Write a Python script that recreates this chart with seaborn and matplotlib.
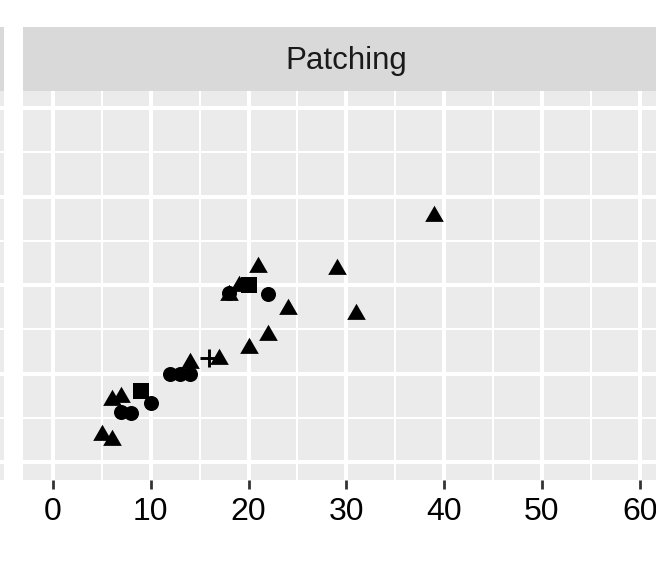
import matplotlib
matplotlib.use("Agg")
import matplotlib.pyplot as plt
import seaborn as sns
import numpy as np

# ---- data ----
tri_x = [5, 6, 6, 7, 14, 17, 20, 22, 18, 19, 21, 24, 29, 31, 39]
tri_y = [3.1, 2.5, 7.0, 7.3, 11.2, 11.6, 12.9, 14.4, 18.9, 19.9, 22.0, 17.3, 21.8, 16.7, 27.8]
circ_x = [7, 8, 10, 12, 13, 14, 18, 22]
circ_y = [5.6, 5.5, 6.7, 9.9, 9.9, 9.9, 19.1, 19.0]
sq_x = [9, 20]
sq_y = [8.0, 20.0]
plus_x = [16]
plus_y = [11.75]
x_ticks = [0, 10, 20, 30, 40, 50, 60]
x_minor = [5, 15, 25, 35, 45, 55]
y_major = [0, 10, 20, 30, 40]
y_minor = [5, 15, 25, 35]
facet_label = "Patching"

sns.set_theme(style="darkgrid")
plt.rcParams['font.family'] = ['Liberation Sans', 'DejaVu Sans']

W, H = 656, 566
fig = plt.figure(figsize=(W / 100, H / 100), dpi=100)
fig.patch.set_facecolor("white")

XLIM = (-3.07, 63.0)
YLIM = (-2.03, 41.92)
panel_top, panel_bot = 91, 480
strip_top = 27

# equilateral triangle centred on its centroid (like R's pch 17)
TRI = [(0.0, 1.0), (-0.866, -0.5), (0.866, -0.5)]


def style_panel(a):
    a.set_facecolor("#EBEBEB")
    for s in a.spines.values():
        s.set_visible(False)
    a.set_xlim(*XLIM)
    a.set_ylim(*YLIM)
    a.set_xticks(x_ticks)
    a.set_xticks(x_minor, minor=True)
    a.set_yticks(y_major)
    a.set_yticks(y_minor, minor=True)
    a.grid(True, which="major", color="white", linewidth=2.9)
    a.grid(True, which="minor", color="white", linewidth=1.45)
    a.set_axisbelow(True)
    a.set_xlabel("")
    a.set_ylabel("")


# left sliver of neighbouring panel
axl = fig.add_axes([(4 - 200) / W, 1 - panel_bot / H, 200 / W, (panel_bot - panel_top) / H])
style_panel(axl)
axl.tick_params(left=False, bottom=False, labelleft=False, labelbottom=False, which="both")
sl = fig.add_axes([(4 - 200) / W, 1 - panel_top / H, 200 / W, (panel_top - strip_top) / H])
sl.set_facecolor("#D9D9D9")
sl.set_xticks([]); sl.set_yticks([])
for s in sl.spines.values():
    s.set_visible(False)

# main panel
ax = fig.add_axes([23 / W, 1 - panel_bot / H, 646 / W, (panel_bot - panel_top) / H])
style_panel(ax)

sns.scatterplot(x=circ_x, y=circ_y, marker="o", s=117, color="black", linewidth=0, ax=ax, zorder=3)
sns.scatterplot(x=tri_x, y=tri_y, marker=TRI, s=240, color="black", linewidth=0, ax=ax, zorder=3)
sns.scatterplot(x=sq_x, y=sq_y, marker="s", s=117, color="black", linewidth=0, ax=ax, zorder=3)
sns.scatterplot(x=plus_x, y=plus_y, marker="+", s=150, color="black", linewidth=2.1, ax=ax, zorder=3)
style_panel(ax)

ax.tick_params(axis="x", which="major", bottom=True, length=6.5, width=2.0, color="#333333",
               pad=6.0, labelsize=23, labelcolor="black")
ax.tick_params(axis="x", which="minor", bottom=False, length=0)
ax.tick_params(axis="y", which="both", left=False, labelleft=False, length=0)
ax.set_xticklabels([str(t) for t in x_ticks])

# strip
st = fig.add_axes([23 / W, 1 - panel_top / H, 646 / W, (panel_top - strip_top) / H])
st.set_facecolor("#D9D9D9")
st.set_xticks([]); st.set_yticks([])
for s in st.spines.values():
    s.set_visible(False)
st.set_xlim(0, 1); st.set_ylim(0, 1)
st.text(0.5, (panel_top - 69) / (panel_top - strip_top), facet_label, ha="center", va="baseline",
        fontsize=22.5, color="#1A1A1A")

fig.savefig("out.png", dpi=100)
